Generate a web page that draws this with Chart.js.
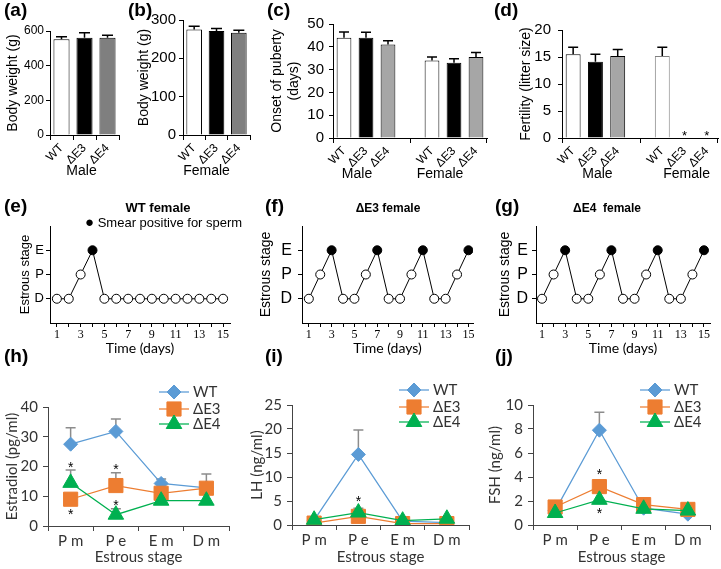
<!DOCTYPE html>
<html><head><meta charset="utf-8">
<script src="https://cdn.jsdelivr.net/npm/chart.js@4/dist/chart.umd.min.js"></script>
<style>
html,body{margin:0;padding:0;background:#fff;}
#fig{position:relative;width:721px;height:569px;overflow:hidden;font-family:"Liberation Sans",Arial,sans-serif;color:#000;}
.cv{position:absolute;}
.lbl{position:absolute;font-weight:bold;font-size:19px;line-height:22px;}
.ttl{position:absolute;font-weight:bold;font-size:13px;line-height:16px;transform:translateX(-50%);white-space:nowrap;}
.leg{position:absolute;font-size:13px;line-height:16px;white-space:nowrap;}
</style></head><body>
<div id="fig">
 <canvas id="ca" class="cv" width="125" height="185" style="left:0;top:0"></canvas>
 <canvas id="cb" class="cv" width="130" height="185" style="left:125px;top:0"></canvas>
 <canvas id="cc" class="cv" width="235" height="185" style="left:255px;top:0"></canvas>
 <canvas id="cd" class="cv" width="231" height="185" style="left:490px;top:0"></canvas>
 <canvas id="ce" class="cv" width="250" height="165" style="left:0;top:195px"></canvas>
 <canvas id="cf" class="cv" width="230" height="165" style="left:250px;top:195px"></canvas>
 <canvas id="cg" class="cv" width="241" height="165" style="left:480px;top:195px"></canvas>
 <canvas id="ch" class="cv" width="240" height="199" style="left:0;top:370px"></canvas>
 <canvas id="ci" class="cv" width="240" height="199" style="left:240px;top:370px"></canvas>
 <canvas id="cj" class="cv" width="241" height="199" style="left:480px;top:370px"></canvas>

 <div class="lbl" style="left:4px;top:-1px">(a)</div>
 <div class="lbl" style="left:128px;top:-1px">(b)</div>
 <div class="lbl" style="left:267px;top:-1px">(c)</div>
 <div class="lbl" style="left:494px;top:-1px">(d)</div>
 <div class="lbl" style="left:4px;top:195px">(e)</div>
 <div class="lbl" style="left:265px;top:195px">(f)</div>
 <div class="lbl" style="left:495px;top:195px">(g)</div>
 <div class="lbl" style="left:4px;top:345px">(h)</div>
 <div class="lbl" style="left:265px;top:345px">(i)</div>
 <div class="lbl" style="left:495px;top:345px">(j)</div>

 <div class="ttl" style="left:158px;top:200px">WT female</div>
 <div class="ttl" style="left:388px;top:200px;font-size:12px">ΔE3 female</div>
 <div class="ttl" style="left:607px;top:200px;font-size:12px">ΔE4&nbsp; female</div>
 <div class="leg" style="left:85px;top:214px"><span style="font-size:15px">●</span> Smear positive for sperm</div>
</div>
<script>
// ---------- data ----------
const genotypes = ['WT', 'ΔE3', 'ΔE4'];
const bodyWeightMale = [552, 561, 561];
const bodyWeightMaleErr = [15, 29, 14];
const bodyWeightFemale = [275, 271, 267];
const bodyWeightFemaleErr = [9, 7, 6];
const pubertyMale = [44, 44, 41];
const pubertyMaleErr = [2.5, 2.4, 1.6];
const pubertyFemale = [34, 33, 35.5];
const pubertyFemaleErr = [1.5, 1.8, 2];
const litterMale = [15.5, 14.1, 15.2];
const litterMaleErr = [1.3, 1.4, 1.2];
const litterFemale = [15.2, null, null];
const litterFemaleErr = [1.6, 0, 0];

const days = [1, 2, 3, 4, 5, 6, 7, 8, 9, 10, 11, 12, 13, 14, 15];
const stageTicks = ['D', 'P', 'E'];
const cycleWT = [0, 0, 1, 2, 0, 0, 0, 0, 0, 0, 0, 0, 0, 0, 0];
const cycleE3 = [0, 1, 2, 0, 0, 1, 2, 0, 0, 1, 2, 0, 0, 1, 2];
const cycleE4 = [0, 1, 2, 0, 0, 1, 2, 0, 0, 1, 2, 0, 0, 1, 2];

const estrousStages = ['P m', 'P e', 'E m', 'D m'];
const seriesNames = ['WT', 'ΔE3', 'ΔE4'];
const estradiolWT = [27.5, 31.8, 14.3, 12.8];
const estradiolWTErr = [5.5, 4.2, 1.5, 0];
const estradiolE3 = [9, 13.6, 11, 12.7];
const estradiolE3Err = [0, 4.3, 0, 4.8];
const estradiolE4 = [14.5, 3.8, 8.5, 8.5];
const estradiolE4Err = [4.3, 2, 0, 0];
const estradiolStars = [[0, 20.5], [0, 4.8], [1, 19.7], [1, 7.7]];
const lhWT = [1.0, 14.7, 0.8, 0.5];
const lhWTErr = [0, 5.1, 0, 0];
const lhE3 = [0.4, 1.8, 0.3, 0.3];
const lhE3Err = [0, 0, 0, 0];
const lhE4 = [1.1, 2.6, 0.9, 1.3];
const lhE4Err = [0, 0.9, 0, 0];
const lhStars = [[1, 5.3]];
const fshWT = [1.2, 7.9, 1.4, 0.9];
const fshWTErr = [0, 1.5, 0, 0];
const fshE3 = [1.5, 3.2, 1.7, 1.3];
const fshE3Err = [0, 0.55, 0, 0];
const fshE4 = [1.0, 2.1, 1.35, 1.2];
const fshE4Err = [0, 0, 0, 0];
const fshStars = [[1, 4.4], [1, 1.2]];

// ---------- helpers ----------
Chart.defaults.font.family = '"Liberation Sans", Arial, sans-serif';
Chart.defaults.color = '#000';

function errorBars(front, color, width, cap) {
  function draw(chart) {
    const ctx = chart.ctx, ys = chart.scales.y;
    chart.data.datasets.forEach((ds, di) => {
      if (!ds.errors) return;
      const meta = chart.getDatasetMeta(di);
      ds.errors.forEach((e, i) => {
        const v = ds.data[i];
        if (!e || v == null) return;
        const x = meta.data[i].x;
        const y0 = ys.getPixelForValue(v), y1 = ys.getPixelForValue(v + e);
        ctx.save();
        ctx.strokeStyle = color; ctx.lineWidth = width;
        ctx.beginPath();
        ctx.moveTo(x, y0); ctx.lineTo(x, y1);
        ctx.moveTo(x - cap / 2, y1); ctx.lineTo(x + cap / 2, y1);
        ctx.stroke(); ctx.restore();
      });
    });
  }
  return {
    id: 'errbars',
    beforeDatasetsDraw(chart) { if (!front) draw(chart); },
    afterDatasetsDraw(chart) { if (front) draw(chart); }
  };
}
function stars(items, size) {
  return {
    id: 'stars',
    afterDatasetsDraw(chart) {
      const ctx = chart.ctx;
      ctx.save();
      ctx.fillStyle = '#000';
      ctx.font = size + 'px "Liberation Sans", Arial, sans-serif';
      ctx.textAlign = 'center'; ctx.textBaseline = 'middle';
      items.forEach(([i, v]) => {
        ctx.fillText('*', chart.scales.x.getPixelForValue(i), chart.scales.y.getPixelForValue(v) + size * 0.22);
      });
      ctx.restore();
    }
  };
}
function groupLabels(items, dy) {
  return {
    id: 'groups',
    afterDraw(chart) {
      const ctx = chart.ctx;
      ctx.save();
      ctx.fillStyle = '#000';
      ctx.font = '14px "Liberation Sans", Arial, sans-serif';
      ctx.textAlign = 'center'; ctx.textBaseline = 'middle';
      items.forEach(g => ctx.fillText(g.text, chart.scales.x.getPixelForValue(g.idx) + g.dx, chart.chartArea.bottom + dy));
      ctx.restore();
    }
  };
}
function endTicks(len) {
  return {
    id: 'endticks',
    afterDraw(chart) {
      const ctx = chart.ctx, a = chart.chartArea;
      ctx.save(); ctx.strokeStyle = '#000'; ctx.lineWidth = 1;
      ctx.beginPath();
      ctx.moveTo(a.left + 0.5, a.bottom); ctx.lineTo(a.left + 0.5, a.bottom + len);
      ctx.moveTo(a.right - 0.5, a.bottom); ctx.lineTo(a.right - 0.5, a.bottom + len);
      ctx.stroke(); ctx.restore();
    }
  };
}
function insideLegend(rows) {
  return {
    id: 'insideLegend',
    afterDraw(chart) {
      const ctx = chart.ctx, a = chart.chartArea;
      chart.data.datasets.forEach((ds, k) => {
        const y = a.top + rows[k];
        ctx.save();
        ctx.strokeStyle = ds.borderColor; ctx.lineWidth = ds.borderWidth;
        ctx.beginPath(); ctx.moveTo(a.right - 70, y); ctx.lineTo(a.right - 40, y); ctx.stroke();
        ctx.fillStyle = ds.pointBackgroundColor; ctx.strokeStyle = ds.pointBorderColor; ctx.lineWidth = 1;
        Chart.helpers.drawPoint(ctx, {pointStyle: ds.pointStyle, radius: ds.pointRadius, rotation: 0, borderWidth: 1}, a.right - 55, y);
        ctx.fillStyle = '#333';
        ctx.font = '15px Lato, sans-serif';
        ctx.textAlign = 'left'; ctx.textBaseline = 'middle';
        ctx.fillText(ds.label, a.right - 36, y);
        ctx.restore();
      });
    }
  };
}

function barChart(id, c) {
  new Chart(document.getElementById(id), {
    type: 'bar',
    data: {
      labels: c.labels,
      datasets: [{
        data: c.values, errors: c.errors,
        backgroundColor: c.fills, borderColor: c.borders, borderWidth: 1,
        barPercentage: c.barPct, categoryPercentage: 1
      }]
    },
    options: {
      responsive: false, animation: false, events: [],
      layout: {padding: {top: c.padTop, right: c.padRight, left: 0, bottom: 0}},
      plugins: {legend: {display: false}, tooltip: {enabled: false}},
      scales: {
        x: {
          offset: true,
          grid: {offset: c.gridOffset, drawOnChartArea: false, tickLength: 5, color: '#000', tickColor: c.tickColor},
          border: {color: '#000', width: 1},
          ticks: {font: {size: 12}, color: '#000', minRotation: 45, maxRotation: 45, autoSkip: false, padding: 1},
          afterFit: s => { s.height = c.xH; }
        },
        y: {
          min: 0, max: c.max,
          ticks: {stepSize: c.step, font: {size: c.tickSize}, color: '#000', padding: c.tickPad},
          grid: {drawOnChartArea: false, tickLength: 4, color: '#000'},
          border: {color: '#000', width: 1},
          title: {display: true, text: c.title, font: {size: 14}, color: '#000', padding: {top: c.titlePad, bottom: 0}},
          afterFit: s => { s.width = c.yW; }
        }
      }
    },
    plugins: [errorBars(true, '#000', 1.5, c.cap), groupLabels(c.groups, 36), stars(c.stars || [], 13)].concat(c.extra || [])
  });
}

function cycleChart(id, c) {
  new Chart(document.getElementById(id), {
    type: 'line',
    data: {
      datasets: [{
        data: days.map((d, i) => ({x: d, y: c.stages[i]})),
        borderColor: '#000', borderWidth: 1, tension: 0,
        pointRadius: 4.5, pointBorderWidth: 1, pointBorderColor: '#000',
        pointBackgroundColor: ctx => (ctx.parsed && ctx.parsed.y === 2) ? '#000' : '#fff'
      }]
    },
    options: {
      responsive: false, animation: false, events: [],
      layout: {padding: {top: 31, right: c.padRight, left: 0, bottom: 0}},
      plugins: {legend: {display: false}, tooltip: {enabled: false}},
      scales: {
        x: {
          type: 'linear', min: c.xmin, max: c.xmax,
          afterBuildTicks: s => { s.ticks = days.map(v => ({value: v})); },
          ticks: {autoSkip: false, maxRotation: 0, callback: v => (v % 2 === 1 ? String(v) : ''), font: {family: '"Liberation Serif", serif', size: 12}, color: '#000', padding: 1},
          grid: {drawOnChartArea: false, tickLength: 4, color: '#000'},
          border: {color: '#000', width: 1},
          title: {display: true, text: 'Time (days)', font: {family: 'Lato, sans-serif', size: 14}, color: '#000', padding: {top: 0, bottom: 3}},
          afterFit: s => { s.height = 37; }
        },
        y: {
          min: -1, max: 3,
          afterBuildTicks: s => { s.ticks = [0, 1, 2].map(v => ({value: v})); },
          ticks: {callback: v => stageTicks[v], font: {size: c.tickSize}, color: '#000', padding: c.tickPad},
          grid: {drawOnChartArea: false, tickLength: 4, color: '#000'},
          border: {color: '#000', width: 1},
          title: {display: true, text: 'Estrous stage', font: {size: c.titleSize}, color: '#000', padding: {top: c.titlePad, bottom: 0}},
          afterFit: s => { s.width = c.yW; }
        }
      }
    }
  });
}

const hColors = ['#5b9bd5', '#ed7d31', '#00b050'];
const hStyles = ['rectRot', 'rect', 'triangle'];
const hRadii = [7, 10, 9];
function hormoneChart(id, c) {
  new Chart(document.getElementById(id), {
    type: 'line',
    data: {
      labels: estrousStages,
      datasets: c.series.map((s, k) => ({
        label: seriesNames[k], data: s[0], errors: s[1],
        borderColor: hColors[k], backgroundColor: hColors[k], borderWidth: 1.25, tension: 0,
        pointStyle: hStyles[k], pointRadius: hRadii[k], pointBorderWidth: 1,
        pointBorderColor: hColors[k], pointBackgroundColor: hColors[k], order: 2 - k
      }))
    },
    options: {
      responsive: false, animation: false, events: [],
      layout: {padding: {top: c.padTop, right: c.padRight, left: 0, bottom: 0}},
      plugins: {legend: {display: false}, tooltip: {enabled: false}},
      scales: {
        x: {
          offset: true,
          grid: {offset: true, drawOnChartArea: false, tickLength: 5, color: '#444'},
          border: {color: '#444', width: 1},
          ticks: {font: {family: 'Lato, sans-serif', size: 15}, color: '#333', padding: 1, maxRotation: 0},
          title: {display: true, text: 'Estrous stage', font: {family: 'Lato, sans-serif', size: 15}, color: '#333', padding: {top: 0, bottom: 3}},
          afterFit: s => { s.height = c.xH; }
        },
        y: {
          min: 0, max: c.max,
          ticks: {stepSize: c.step, font: {family: 'Lato, sans-serif', size: 15}, color: '#333', padding: 5},
          grid: {drawOnChartArea: false, tickLength: 5, color: '#444'},
          border: {color: '#444', width: 1},
          title: {display: true, text: c.title, font: {family: 'Lato, sans-serif', size: 15}, color: '#333', padding: {top: c.titlePad, bottom: 0}},
          afterFit: s => { s.width = c.yW; }
        }
      }
    },
    plugins: [errorBars(false, '#8c8c8c', 1.5, 10), stars(c.stars, 14), insideLegend([-15, 2, 17])]
  });
}

// ---------- row 1 ----------
const gLabels = genotypes.concat([''], genotypes);
const allTicks = () => '#000';
const midTick = ctx => (ctx.index === 3 ? '#000' : 'rgba(0,0,0,0)');

barChart('ca', {
  labels: genotypes, values: bodyWeightMale, errors: bodyWeightMaleErr,
  fills: ['#fff', '#000', '#7f7f7f'], borders: '#000', barPct: 0.7,
  padTop: 31, padRight: 6, xH: 50, yW: 50, max: 600, step: 200, tickSize: 12, tickPad: 2,
  title: 'Body weight (g)', titlePad: 5, cap: 11, gridOffset: true, tickColor: allTicks,
  groups: [{text: 'Male', idx: 1, dx: -3}]
});
barChart('cb', {
  labels: genotypes, values: bodyWeightFemale, errors: bodyWeightFemaleErr,
  fills: ['#fff', '#000', '#7f7f7f'], borders: '#000', barPct: 0.7,
  padTop: 20, padRight: 5, xH: 50, yW: 58, max: 300, step: 100, tickSize: 15, tickPad: 3,
  title: 'Body weight (g)', titlePad: 11, cap: 11, gridOffset: true, tickColor: allTicks,
  groups: [{text: 'Female', idx: 1, dx: -10}]
});
barChart('cc', {
  labels: gLabels, values: pubertyMale.concat([null], pubertyFemale), errors: pubertyMaleErr.concat([0], pubertyFemaleErr),
  fills: ['#fff', '#000', '#a6a6a6', '#fff', '#fff', '#000', '#a6a6a6'], borders: '#000', barPct: 0.67,
  padTop: 24, padRight: 3, xH: 47, yW: 78, max: 50, step: 10, tickSize: 15, tickPad: 5,
  title: ['Onset of puberty', '(days)'], titlePad: 14, cap: 10, gridOffset: false, tickColor: midTick,
  groups: [{text: 'Male', idx: 1, dx: -9}, {text: 'Female', idx: 5, dx: -14}], extra: [endTicks(5)]
});
barChart('cd', {
  labels: gLabels, values: litterMale.concat([null], litterFemale), errors: litterMaleErr.concat([0], litterFemaleErr),
  fills: ['#fff', '#000', '#a6a6a6', '#fff', '#fff', '#000', '#a6a6a6'],
  borders: ['#000', '#000', '#000', '#000', '#808080', '#000', '#000'], barPct: 0.67,
  padTop: 30, padRight: 3, xH: 47, yW: 72, max: 20, step: 5, tickSize: 15, tickPad: 7,
  title: 'Fertility (litter size)', titlePad: 28, cap: 10, gridOffset: false, tickColor: midTick,
  groups: [{text: 'Male', idx: 1, dx: 2}, {text: 'Female', idx: 5, dx: 2}],
  stars: [[5, 0.9], [6, 0.9]], extra: [endTicks(5)]
});

// ---------- row 2 ----------
cycleChart('ce', {stages: cycleWT, xmin: 0.42, xmax: 15.58, padRight: 20, yW: 50, tickSize: 13, tickPad: 2, titleSize: 13, titlePad: 18});
cycleChart('cf', {stages: cycleE3, xmin: 0.4, xmax: 15.4, padRight: 7, yW: 52, tickSize: 16, tickPad: 6, titleSize: 14, titlePad: 8});
cycleChart('cg', {stages: cycleE4, xmin: 0.48, xmax: 15.52, padRight: 11, yW: 56, tickSize: 16, tickPad: 4, titleSize: 14, titlePad: 17});

// ---------- row 3 ----------
hormoneChart('ch', {
  series: [[estradiolWT, estradiolWTErr], [estradiolE3, estradiolE3Err], [estradiolE4, estradiolE4Err]],
  stars: estradiolStars, max: 40, step: 10, title: 'Estradiol (pg/ml)',
  padTop: 37, padRight: 8, xH: 43, yW: 48, titlePad: 3
});
hormoneChart('ci', {
  series: [[lhWT, lhWTErr], [lhE3, lhE3Err], [lhE4, lhE4Err]],
  stars: lhStars, max: 25, step: 5, title: 'LH (ng/ml)',
  padTop: 35, padRight: 7, xH: 44, yW: 52, titlePad: 8
});
hormoneChart('cj', {
  series: [[fshWT, fshWTErr], [fshE3, fshE3Err], [fshE4, fshE4Err]],
  stars: fshStars, max: 10, step: 2, title: 'FSH (ng/ml)',
  padTop: 35, padRight: 1, xH: 44, yW: 53, titlePad: 6
});
</script>
</body></html>
